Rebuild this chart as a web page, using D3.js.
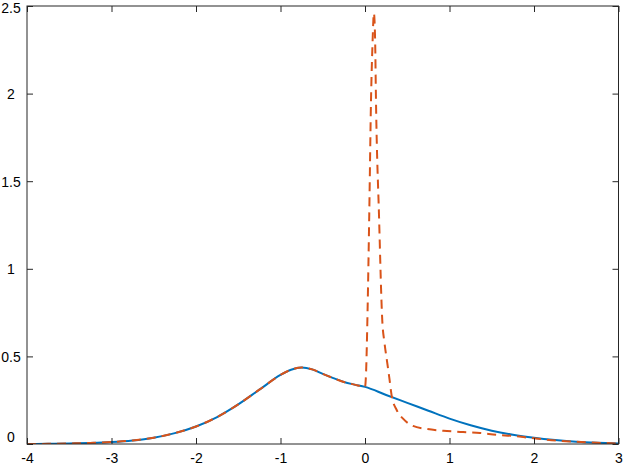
<!DOCTYPE html>
<html>
<head>
<meta charset="utf-8">
<script src="https://cdn.jsdelivr.net/npm/d3@7"></script>
<style>
  body { margin: 0; background: #fff; }
  text { font-family: "Liberation Sans", Arial, sans-serif; font-size: 14px; fill: #000; }
</style>
</head>
<body>
<div id="chart"></div>
<script>
// density curve (solid blue)
const blueX = [-4, -3.75, -3.5, -3.25, -3, -2.75, -2.5, -2.25, -2, -1.75, -1.5, -1.25, -1,
  -0.875, -0.75, -0.625, -0.5, -0.375, -0.25, -0.125, 0, 0.25, 0.5, 0.75, 1, 1.25, 1.5,
  1.75, 2, 2.25, 2.5, 2.75, 3];
const blueY = [0.000, 0.001, 0.003, 0.006, 0.011, 0.020, 0.036, 0.062, 0.100, 0.154, 0.226, 0.310, 0.394,
  0.424, 0.437, 0.426, 0.400, 0.376, 0.354, 0.339, 0.326, 0.280, 0.235, 0.190, 0.145, 0.107, 0.076,
  0.053, 0.036, 0.023, 0.013, 0.007, 0.003];

// estimate with spike near zero (dashed orange)
const orangeX = [-4, -3.75, -3.5, -3.25, -3, -2.75, -2.5, -2.25, -2, -1.75, -1.5, -1.25, -1,
  -0.875, -0.75, -0.625, -0.5, -0.375, -0.25, -0.125, 0,
  0.012, 0.03, 0.05, 0.071, 0.09, 0.105, 0.12, 0.13, 0.166, 0.205, 0.23, 0.26, 0.288, 0.316,
  0.375, 0.453, 0.568, 0.73, 0.97, 1.16, 1.361, 1.562, 1.751, 1.953, 2.308, 2.5, 2.75, 3];
const orangeY = [0.000, 0.001, 0.003, 0.006, 0.011, 0.020, 0.036, 0.062, 0.100, 0.154, 0.226, 0.310, 0.394,
  0.424, 0.437, 0.426, 0.400, 0.376, 0.354, 0.339, 0.326,
  0.40, 0.75, 1.3, 1.96, 2.3, 2.46, 2.3, 1.96, 1.3, 0.70, 0.58, 0.475, 0.377, 0.275,
  0.194, 0.143, 0.103, 0.086, 0.074, 0.068, 0.063, 0.052, 0.046, 0.035, 0.018, 0.013, 0.007, 0.003];

const xTicks = [-4, -3, -2, -1, 0, 1, 2, 3];
const yTicks = [0, 0.5, 1, 1.5, 2, 2.5];

const W = 623, H = 465;
const margin = { top: 6, right: 4.5, bottom: 21, left: 27 };
const width = W - margin.left - margin.right,
  height = H - margin.top - margin.bottom;

const svg = d3.select("#chart").append("svg")
  .attr("width", W)
  .attr("height", H);

const g = svg.append("g")
  .attr("transform", `translate(${margin.left},${margin.top})`);

const x = d3.scaleLinear().domain([-4, 3]).range([0, width]);
const y = d3.scaleLinear().domain([0, 2.5]).range([height, 0]);

g.append("clipPath").attr("id", "clip")
  .append("rect").attr("width", width).attr("height", height);

const line = d3.line()
  .x(d => x(d[0]))
  .y(d => y(d[1]))
  .curve(d3.curveMonotoneX);

const blue = blueX.map((v, i) => [v, blueY[i]]);
const orange = orangeX.map((v, i) => [v, orangeY[i]]);

g.append("path")
  .datum(blue)
  .attr("clip-path", "url(#clip)")
  .attr("fill", "none")
  .attr("stroke", "#0072BD")
  .attr("stroke-width", 2)
  .attr("d", line);

g.append("path")
  .datum(orange)
  .attr("clip-path", "url(#clip)")
  .attr("fill", "none")
  .attr("stroke", "#D95319")
  .attr("stroke-width", 2)
  .attr("stroke-dasharray", "9,6")
  .attr("d", line);

// box axes, ticks pointing inward on all sides
const tk = 6;
const axisColor = "#262626";

g.append("g")
  .attr("transform", `translate(0,${height})`)
  .call(d3.axisBottom(x).tickValues(xTicks).tickSize(-tk).tickPadding(9).tickFormat(d => String(d)))
  .call(a => a.select(".domain").remove());

g.append("g")
  .call(d3.axisTop(x).tickValues(xTicks).tickSize(-tk).tickFormat(""))
  .call(a => a.select(".domain").remove());

g.append("g")
  .attr("transform", `translate(${width},0)`)
  .call(d3.axisRight(y).tickValues(yTicks).tickSize(-tk).tickFormat(""))
  .call(a => a.select(".domain").remove());

const left = g.append("g")
  .call(d3.axisLeft(y).tickValues(yTicks).tickSize(-tk).tickFormat(d => String(d)))
  .call(a => a.select(".domain").remove());

left.selectAll("text")
  .attr("text-anchor", "middle")
  .attr("x", -16)
  .attr("dy", d => d === 0 ? "-0.2em" : (d === 2.5 ? "0.45em" : "0.35em"));

g.selectAll(".tick line").attr("stroke", axisColor);
g.selectAll(".tick text")
  .attr("fill", "#000")
  .style("font-size", "14px")
  .style("font-family", "'Liberation Sans', Arial, sans-serif");

g.append("rect")
  .attr("width", width)
  .attr("height", height)
  .attr("fill", "none")
  .attr("stroke", axisColor)
  .attr("stroke-width", 1);
</script>
</body>
</html>
